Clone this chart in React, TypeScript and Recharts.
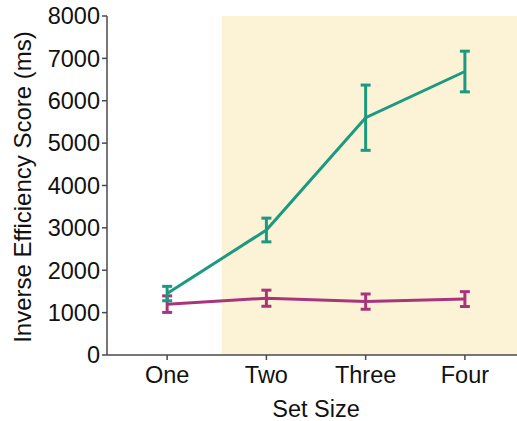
import React from 'react';
import { LineChart, Line, XAxis, YAxis, ErrorBar, ReferenceArea } from 'recharts';

const categories = ['One', 'Two', 'Three', 'Four'];
const setSizes = [1, 2, 3, 4];
const tealValues = [1450, 2950, 5600, 6690];
const tealErrors = [170, 280, 770, 480];
const magentaValues = [1200, 1340, 1260, 1320];
const magentaErrors = [195, 190, 180, 175];
const yTicks = [0, 1000, 2000, 3000, 4000, 5000, 6000, 7000, 8000];

const data = setSizes.map((s, i) => ({
  x: s,
  name: categories[i],
  teal: tealValues[i],
  tealErr: tealErrors[i],
  magenta: magentaValues[i],
  magentaErr: magentaErrors[i],
}));

const TEAL = '#1b9a80';
const MAGENTA = '#a8357c';
const AXIS = '#4a4a4a';
const FONT = 'Liberation Sans, Arial, Helvetica, sans-serif';
const FS = 23.5;

export default function App() {
  return (
    <div style={{ position: 'absolute', left: 0, top: 0, width: 517, height: 421, background: '#fff' }}>
      <LineChart width={517} height={421} data={data} margin={{ top: 16, right: 0, left: 0, bottom: 0 }}>
        <ReferenceArea x1={1.55} x2={4.525} y1={0} y2={8000} fill="#fcf3d7" fillOpacity={1} stroke="none" ifOverflow="hidden" />
        <XAxis
          dataKey="x"
          type="number"
          domain={[0.394, 4.525]}
          ticks={setSizes}
          allowDataOverflow
          tickFormatter={(v: number) => categories[v - 1]}
          height={66}
          stroke={AXIS}
          strokeWidth={1.5}
          tickSize={5}
          tickMargin={6}
          tick={{ fill: '#111', fontSize: FS, fontFamily: FONT }}
          label={{
            content: (props: any) => {
              const vb = props.viewBox;
              return (
                <text x={vb.x + vb.width / 2 + 4} y={vb.y + vb.height - 4} textAnchor="middle" fill="#111" fontSize={FS} fontFamily={FONT}>
                  Set Size
                </text>
              );
            },
          }}
        />
        <YAxis
          type="number"
          domain={[0, 8000]}
          ticks={yTicks}
          interval={0}
          width={107}
          stroke={AXIS}
          strokeWidth={1.5}
          tickSize={5}
          tickMargin={2}
          tick={{ fill: '#111', fontSize: FS, fontFamily: FONT }}
          label={{
            content: () => {
              const cx = 22;
              const cy = 187;
              return (
                <text x={cx} y={cy} transform={`rotate(-90 ${cx} ${cy})`} textAnchor="middle" dominantBaseline="central" fill="#111" fontSize={24} fontFamily={FONT}>
                  Inverse Efficiency Score (ms)
                </text>
              );
            },
          }}
        />
        <Line dataKey="magenta" stroke={MAGENTA} strokeWidth={3} dot={false} isAnimationActive={false}>
          <ErrorBar dataKey="magentaErr" width={5} stroke={MAGENTA} strokeWidth={3} direction="y" isAnimationActive={false} />
        </Line>
        <Line dataKey="teal" stroke={TEAL} strokeWidth={3} dot={false} isAnimationActive={false}>
          <ErrorBar dataKey="tealErr" width={5} stroke={TEAL} strokeWidth={3} direction="y" isAnimationActive={false} />
        </Line>
      </LineChart>
    </div>
  );
}
